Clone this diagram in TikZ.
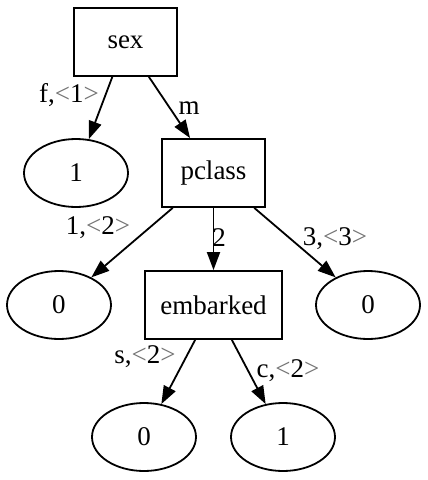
\documentclass[tikz,border=0pt]{standalone}
\usepackage{fontspec}
\setmainfont{Liberation Serif}
\usepackage{tikz}
\usetikzlibrary{arrows.meta,shapes.geometric}
\newcommand{\ang}[1]{\textcolor{black!55}{<}#1\textcolor{black!55}{>}}

\begin{document}
\begin{tikzpicture}[x=1pt, y=-1pt,
    every node/.style={font=\fontsize{27}{30}\selectfont},
    split/.style={draw, line width=1.8pt, rectangle, minimum width=103pt, minimum height=68pt},
    leaf/.style={draw, line width=1.8pt, ellipse, minimum width=104pt, minimum height=68pt, inner sep=0pt},
    edge/.style={line width=1.8pt, -{Triangle[length=18pt, width=13pt]}},
    lbl/.style={inner sep=0pt}]
  \useasboundingbox (0,0) rectangle (428,480);
  \node [split] (sex) at (125.5,42) {sex};
  \node [leaf] (leafA) at (76,173) {1};
  \node [split] (pclass) at (213.5,173) {pclass};
  \node [leaf] (leafB) at (59,305) {0};
  \node [split, minimum width=137pt] (embarked) at (213.5,305) {embarked};
  \node [leaf] (leafC) at (368,305) {0};
  \node [leaf] (leafD) at (144,437) {0};
  \node [leaf] (leafE) at (283,437) {1};
  \draw [edge] (sex) -- (leafA);
  \draw [edge] (sex) -- (pclass);
  \draw [edge] (pclass) -- (leafB);
  \draw [edge] (pclass) -- (embarked);
  \draw [edge] (pclass) -- (leafC);
  \draw [edge] (embarked) -- (leafD);
  \draw [edge] (embarked) -- (leafE);
  \node [lbl] (lblF) at (69,95) {f,\ang{1}};
  \node [lbl] (lblM) at (189,108) {m};
  \node [lbl] (lblOne) at (98,228) {1,\ang{2}};
  \node [lbl] (lblTwo) at (219,238) {2};
  \node [lbl] (lblThree) at (335,239) {3,\ang{3}};
  \node [lbl] (lblS) at (145,357) {s,\ang{2}};
  \node [lbl] (lblC) at (288,371) {c,\ang{2}};
\end{tikzpicture}
\end{document}
